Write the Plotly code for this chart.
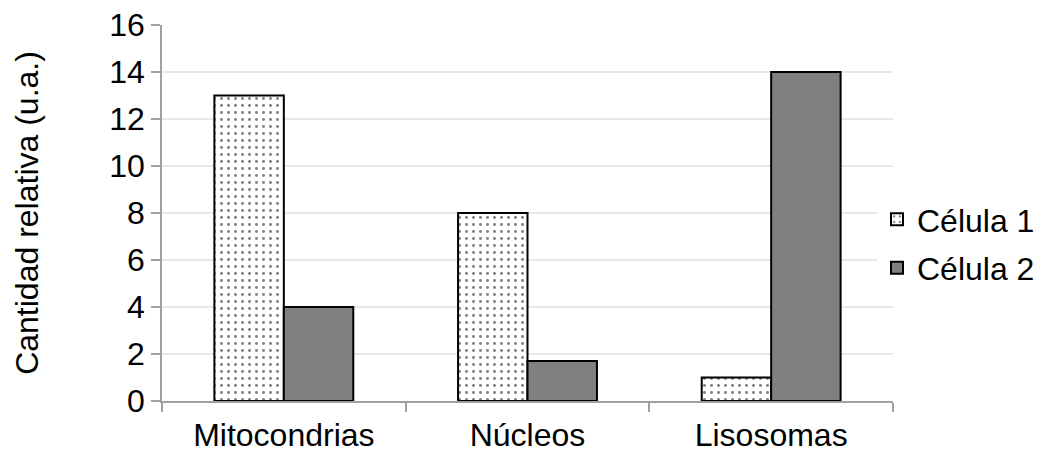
import plotly.graph_objects as go

categories = ["Mitocondrias", "Núcleos", "Lisosomas"]
celula1 = [13, 8, 1]
celula2 = [4, 1.7, 14]
series_names = ["Célula 1", "Célula 2"]
y_ticks = [0, 2, 4, 6, 8, 10, 12, 14, 16]

font_family = "Liberation Sans, Arial, sans-serif"

fig = go.Figure()
fig.add_trace(go.Bar(
    x=categories, y=celula1, name=series_names[0], legendgroup="a",
    marker=dict(color="white", line=dict(color="black", width=2),
                pattern=dict(shape=".", fgcolor="black", bgcolor="white",
                             size=7, solidity=0.14, fillmode="overlay")),
))
fig.add_trace(go.Bar(
    x=categories, y=celula2, name=series_names[1], legendgroup="b",
    marker=dict(color="#808080", line=dict(color="black", width=2)),
))

fig.update_layout(
    width=1040, height=453,
    margin=dict(l=162, r=147, t=25, b=52, autoexpand=False),
    paper_bgcolor="white", plot_bgcolor="white",
    barmode="group", bargap=0.43, bargroupgap=0,
    font=dict(family=font_family, size=32, color="black"),
    legend=dict(xref="container", x=877 / 1040, xanchor="left",
                y=0.418, yanchor="middle",
                font=dict(size=32), tracegroupgap=4, traceorder="grouped"),
    showlegend=True,
)
fig.update_xaxes(
    automargin=False,
    showline=True, linecolor="#a0a0a0", linewidth=1.5,
    ticks="outside", tickson="boundaries", ticklen=9, tickcolor="#a0a0a0", tickwidth=1.5,
    tickfont=dict(size=32), showgrid=False, ticklabelstandoff=5,
)
fig.update_yaxes(
    automargin=False,
    range=[0, 16], tickvals=y_ticks, showline=True, linecolor="#a0a0a0", linewidth=1.5,
    ticks="outside", ticklen=9, tickcolor="#a0a0a0", tickwidth=1.5,
    showgrid=True, gridcolor="#e8e8e8", gridwidth=1.5,
    tickfont=dict(size=32), zeroline=False,
    title=dict(text="Cantidad relativa (u.a.)", font=dict(size=32), standoff=61),
)

fig.write_html("out.html", config={"displayModeBar": False},
               post_script="document.body.style.margin='0';")
